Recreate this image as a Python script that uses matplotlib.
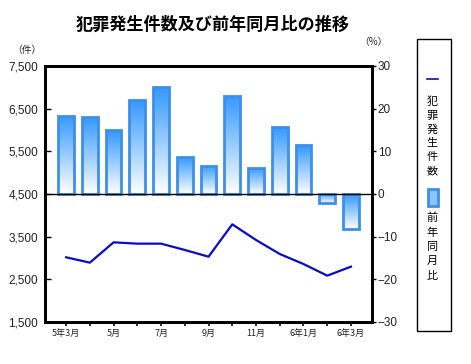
import matplotlib.pyplot as plt
import numpy as np
from matplotlib.ticker import FuncFormatter

JP = ["Noto Sans CJK JP", "DejaVu Sans"]
NUM = "Liberation Sans"

months = ["5年3月", "4月", "5月", "6月", "7月", "8月", "9月", "10月",
          "11月", "12月", "6年1月", "2月", "6年3月"]
crimes = [3016, 2891, 3367, 3336, 3336, 3188, 3031, 3789,
          3422, 3094, 2859, 2586, 2797]
yoy_pct = [18.3, 18.0, 14.9, 22.0, 25.0, 8.6, 6.6, 23.0,
           6.1, 15.7, 11.4, -2.2, -8.2]
left_ticks = [1500, 2500, 3500, 4500, 5500, 6500, 7500]
right_ticks = [-30, -20, -10, 0, 10, 20, 30]

bar_edge = "#3d8fe8"
bar_top = "#3399ff"
line_color = "#0a0ac8"
text_color = "#222222"

fig = plt.figure(figsize=(4.71, 3.64), dpi=100)
ax = fig.add_axes([0.0955, 0.1154, 0.6945, 0.7033])
ax2 = ax.twinx()
ax.set_zorder(ax2.get_zorder() + 1)
ax.patch.set_visible(False)

x = np.arange(len(months))

# bars with a vertical gradient (dark top -> white bottom)
cmap = plt.matplotlib.colors.LinearSegmentedColormap.from_list(
    "barfade", ["#ffffff", bar_top])
grad = np.linspace(0, 1, 256).reshape(-1, 1)
bars = ax2.bar(x, yoy_pct, width=0.66, facecolor="none",
               edgecolor=bar_edge, linewidth=2.0, zorder=3)
for b in bars:
    x0, y0 = b.get_x(), b.get_y()
    w, h = b.get_width(), b.get_height()
    lo, hi = min(y0, y0 + h), max(y0, y0 + h)
    im = ax2.imshow(grad, extent=[x0, x0 + w, lo, hi], origin="lower",
                    aspect="auto", cmap=cmap, zorder=2)
    im.set_clip_path(b)
ax2.axhline(0, color="black", linewidth=1.0, zorder=4)

ax.plot(x, crimes, color=line_color, linewidth=1.6, zorder=5)

ax.set_xlim(-0.89, len(months) - 1 + 0.89)
ax.set_ylim(1500, 7500)
ax2.set_ylim(-30, 30)

ax.set_xticks(x)
ax.set_xticklabels([m if i % 2 == 0 else "" for i, m in enumerate(months)],
                   fontfamily=JP, fontsize=6.5, color=text_color)
ax.tick_params(axis="x", direction="out", length=3, width=1.2, pad=2)

ax.set_yticks(left_ticks)
ax.yaxis.set_major_formatter(FuncFormatter(lambda v, p: f"{int(v):,}"))
ax.tick_params(axis="y", direction="in", length=4, width=1, pad=5,
               labelsize=8.5, labelcolor=text_color)
for lbl in ax.get_yticklabels():
    lbl.set_fontfamily(NUM)

ax2.set_yticks(right_ticks)
ax2.tick_params(axis="y", direction="out", length=3, width=1, pad=1,
                labelsize=8.5, labelcolor=text_color)
for lbl in ax2.get_yticklabels():
    lbl.set_fontfamily(NUM)

for a in (ax, ax2):
    for s in a.spines.values():
        s.set_linewidth(2.0)
        s.set_color("black")

fig.text(0.451, 0.933, "犯罪発生件数及び前年同月比の推移", fontfamily=JP,
         fontsize=12.3, fontweight="bold", ha="center", va="center")
fig.text(27 / 471, 1 - 50.5 / 364, "（件）", fontfamily=JP, fontsize=7,
         ha="center", va="center", color=text_color)
fig.text(373 / 471, 1 - 42.5 / 364, "（%）", fontfamily=JP, fontsize=7,
         ha="center", va="center", color=text_color)

# vertical legend box
fig.patches.append(plt.Rectangle((417 / 471, 1 - 331 / 364), 34 / 471,
                                 292 / 364, transform=fig.transFigure,
                                 fill=False, edgecolor="black", linewidth=1))
fig.lines.append(plt.Line2D([427 / 471, 438 / 471], [1 - 79 / 364] * 2,
                            transform=fig.transFigure, color=line_color,
                            linewidth=1.2))
for i, ch in enumerate("犯罪発生件数"):
    fig.text(432 / 471, 1 - (102 + i * 13.8) / 364, ch, fontfamily=JP,
             fontsize=8, ha="center", va="center")
fig.patches.append(plt.Rectangle((427.5 / 471, 1 - 206 / 364), 10 / 471,
                                 17 / 364, transform=fig.transFigure,
                                 facecolor="#8cc4ff", edgecolor=bar_edge,
                                 linewidth=2))
for i, ch in enumerate("前年同月比"):
    fig.text(432 / 471, 1 - (218 + i * 14.4) / 364, ch, fontfamily=JP,
             fontsize=8, ha="center", va="center")

fig.savefig("out.png", dpi=100)
